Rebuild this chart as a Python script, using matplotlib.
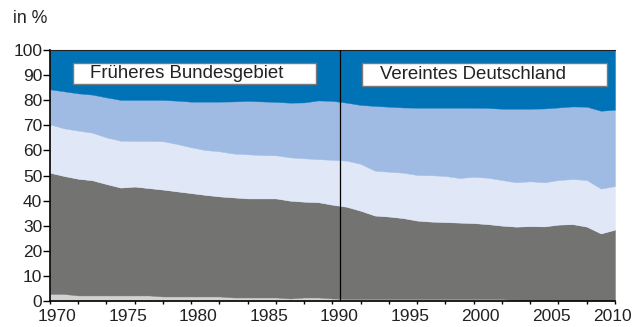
import numpy as np
import matplotlib
matplotlib.use("Agg")
import matplotlib.pyplot as plt
from matplotlib.patches import Rectangle

plt.rcParams['font.family'] = ['Liberation Sans', 'DejaVu Sans']

jahre = list(range(1970, 2011))

# Anteile in %, von unten nach oben gestapelt
hellgrau = [3.0, 3.0, 2.4, 2.4, 2.4, 2.4, 2.4, 2.4, 2.0, 2.0,
            2.0, 2.0, 2.0, 1.6, 1.6, 1.6, 1.6, 1.2, 1.6, 1.6,
            1.2, 1.0, 1.0, 1.0, 1.0, 1.0, 1.0, 1.0, 1.0, 1.0,
            1.0, 1.0, 1.0, 0.5, 0.5, 0.5, 0.5, 0.5, 0.5, 0.5,
            0.5]
dunkelgrau = [48.1, 46.8, 46.3, 45.7, 44.2, 42.8, 43.2, 42.6, 42.4, 41.7,
              41.0, 40.3, 39.7, 39.7, 39.3, 39.3, 39.3, 38.8, 38.0, 37.8,
              37.2, 36.6, 35.0, 33.1, 32.7, 32.1, 31.1, 30.7, 30.5, 30.3,
              30.1, 29.7, 29.1, 29.2, 29.4, 29.3, 30.0, 30.2, 29.2, 26.5,
              28.0]
hellblau = [19.2, 18.9, 19.1, 18.9, 18.5, 18.6, 18.1, 18.7, 19.2, 18.8,
            18.2, 17.8, 17.9, 17.4, 17.5, 17.2, 17.1, 17.2, 17.2, 17.1,
            17.8, 18.3, 18.6, 17.8, 17.8, 18.0, 18.1, 18.4, 18.3, 17.7,
            18.4, 18.4, 18.1, 17.6, 17.8, 17.5, 17.7, 17.9, 18.5, 17.8,
            17.3]
mittelblau = [13.9, 14.7, 14.8, 15.1, 15.9, 16.2, 16.3, 16.3, 16.4, 17.2,
              18.1, 19.2, 19.7, 20.7, 21.2, 21.3, 21.2, 21.7, 22.2, 23.3,
              23.4, 23.0, 23.4, 25.7, 25.8, 25.9, 26.7, 26.8, 27.1, 27.9,
              27.4, 27.7, 28.3, 29.2, 28.8, 29.3, 28.8, 28.8, 29.1, 30.9,
              30.3]
dunkelblau = [15.8, 16.6, 17.4, 17.9, 19.0, 20.0, 20.0, 20.0, 20.0, 20.3,
              20.7, 20.7, 20.7, 20.6, 20.4, 20.6, 20.8, 21.1, 21.0, 20.2,
              20.4, 21.1, 22.0, 22.4, 22.7, 23.0, 23.1, 23.1, 23.1, 23.1,
              23.1, 23.2, 23.5, 23.5, 23.5, 23.4, 23.0, 22.6, 22.7, 24.3,
              23.9]

beschriftete_jahre = [1970, 1975, 1980, 1985, 1990, 1995, 2000, 2005, 2010]

farben = ['#d2d2d2', '#737372', '#e0e8f8', '#a0bbe3', '#0073b7']

fig = plt.figure(figsize=(6.41, 3.27), dpi=100)
ax = fig.add_axes([0.078, 0.078, 0.8814, 0.7706])

polys = ax.stackplot(jahre, hellgrau, dunkelgrau, hellblau, mittelblau, dunkelblau,
                     colors=farben, linewidth=0.3)
for p, c in zip(polys, farben):
    p.set_edgecolor(c)

# Grenze zwischen früherem Bundesgebiet und vereintem Deutschland
ax.axvline(1990.5, color='black', lw=0.9, zorder=5)

ax.set_xlim(1970, 2010)
ax.set_ylim(0, 100)

ax.set_yticks(range(0, 101, 10))
ax.tick_params(axis='y', direction='out', length=4.8, width=1.0, pad=0.8,
               labelsize=12.5, colors='black', labelcolor='#222222')

# Jahreszahlen mittig im Jahr (die letzte passt sonst nicht aufs Bild),
# Striche alle 2 Jahre
ax.xaxis.remove_overlapping_locs = False
pos = [j + 0.5 for j in beschriftete_jahre[:-1]] + [beschriftete_jahre[-1] - 0.2]
ax.set_xticks(pos)
ax.set_xticklabels([str(j) for j in beschriftete_jahre])
ax.set_xticks(range(1970, 2011, 2), minor=True)
ax.tick_params(axis='x', which='major', length=0, pad=5.5, labelsize=12.5,
               labelcolor='#222222')
ax.tick_params(axis='x', which='minor', direction='out', length=2.5, width=1.0,
               colors='black')

ax.spines['right'].set_visible(False)
ax.spines['top'].set_linewidth(0.8)
ax.spines['top'].set_color('#222222')
for s in ('left', 'bottom'):
    ax.spines[s].set_linewidth(1.2)
    ax.spines[s].set_color('black')

# Beschriftungskästen
for x0, x1, y0, y1, tx, txt in [
        (0.040, 0.471, 0.863, 0.945, 0.071, 'Früheres Bundesgebiet'),
        (0.552, 0.985, 0.855, 0.948, 0.584, 'Vereintes Deutschland')]:
    ax.add_patch(Rectangle((x0, y0), x1 - x0, y1 - y0, transform=ax.transAxes,
                           facecolor='white', edgecolor='#7a7a7a', lw=1.0, zorder=6))
    ax.text(tx, (y0 + y1) / 2, txt, transform=ax.transAxes, ha='left', va='center',
            fontsize=13.4, color='#222222', zorder=7)

fig.text(0.0198, 0.943, 'in %', ha='left', va='center', fontsize=12.8, color='#222222')

fig.savefig('out.png', dpi=100)
